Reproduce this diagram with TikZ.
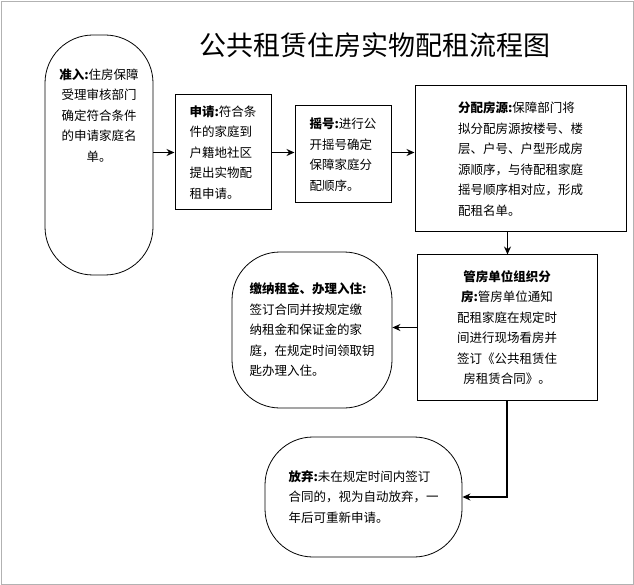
\documentclass[tikz,border=0pt]{standalone}
\usepackage{fontspec}
\setmainfont{Noto Sans CJK SC}
\usetikzlibrary{arrows.meta}
\tikzset{
  stepbox/.style={draw,line width=1pt,inner sep=5pt,font=\fontsize{12.5}{20.5}\selectfont},
  ovalbox/.style={draw,line width=0.8pt,rounded corners=48pt,inner sep=4pt,font=\fontsize{12.5}{20.5}\selectfont},
  flow/.style={line width=1.6pt,-{Stealth[length=8pt,width=7pt]}}
}
\begin{document}
\begin{tikzpicture}[x=1pt,y=1pt,yscale=-1]
\useasboundingbox (0,0) rectangle (634,585);
% frame
\draw [gray!60] (1,1) rectangle (633,584);
% title
\node (title) at (375,45) {\fontsize{27}{30}\selectfont 公共租赁住房实物配租流程图};

% boxes
\node [ovalbox,minimum width=108pt,minimum height=240pt,align=center] (zhunru) at (99,155)
  {\textbf{准入:}住房保障\\受理审核部门\\确定符合条件\\的申请家庭名\\单。\\[60pt]};
\node [stepbox,minimum width=96pt,minimum height=115pt,align=left] (shenqing) at (223,152.5)
  {\textbf{申请:}符合条\\件的家庭到\\户籍地社区\\提出实物配\\租申请。};
\node [stepbox,minimum width=96pt,minimum height=97pt,align=left] (yaohao) at (343,154.5)
  {\textbf{摇号:}进行公\\开摇号确定\\保障家庭分\\配顺序。};
\node [stepbox,minimum width=211pt,minimum height=146pt,align=left] (fenpei) at (520.5,159)
  {\textbf{分配房源:}保障部门将\\拟分配房源按楼号、楼\\层、户号、户型形成房\\源顺序，与待配租家庭\\摇号顺序相对应，形成\\配租名单。};
\node [stepbox,minimum width=180pt,minimum height=145pt,align=center] (guanfang) at (507,327.5)
  {\textbf{管房单位组织分}\\\textbf{房:}管房单位通知\\配租家庭在规定时\\间进行现场看房并\\签订《公共租赁住\\房租赁合同》。};
\node [ovalbox,minimum width=160pt,minimum height=156pt,align=left] (jiaona) at (312,330)
  {\textbf{缴纳租金、办理入住:}\\签订合同并按规定缴\\纳租金和保证金的家\\庭，在规定时间领取钥\\匙办理入住。};
\node [ovalbox,minimum width=197pt,minimum height=120pt,align=left] (fangqi) at (363.5,497)
  {\textbf{放弃:}未在规定时间内签订\\合同的，视为自动放弃，一\\年后可重新申请。};

% connectors
\draw [flow] (zhunru.east |- shenqing) -- (shenqing.west);
\draw [flow] (shenqing.east) -- (yaohao.west |- shenqing);
\draw [flow] (yaohao.east |- shenqing) -- (fenpei.west |- shenqing);
\draw [flow] ([xshift=-13pt]fenpei.south) -- ([xshift=-13pt]fenpei.south |- guanfang.north);
\draw [flow] (guanfang.west) -- (jiaona.east |- guanfang.west);
\draw [flow] (guanfang.south) |- (fangqi.east);
\end{tikzpicture}
\end{document}
